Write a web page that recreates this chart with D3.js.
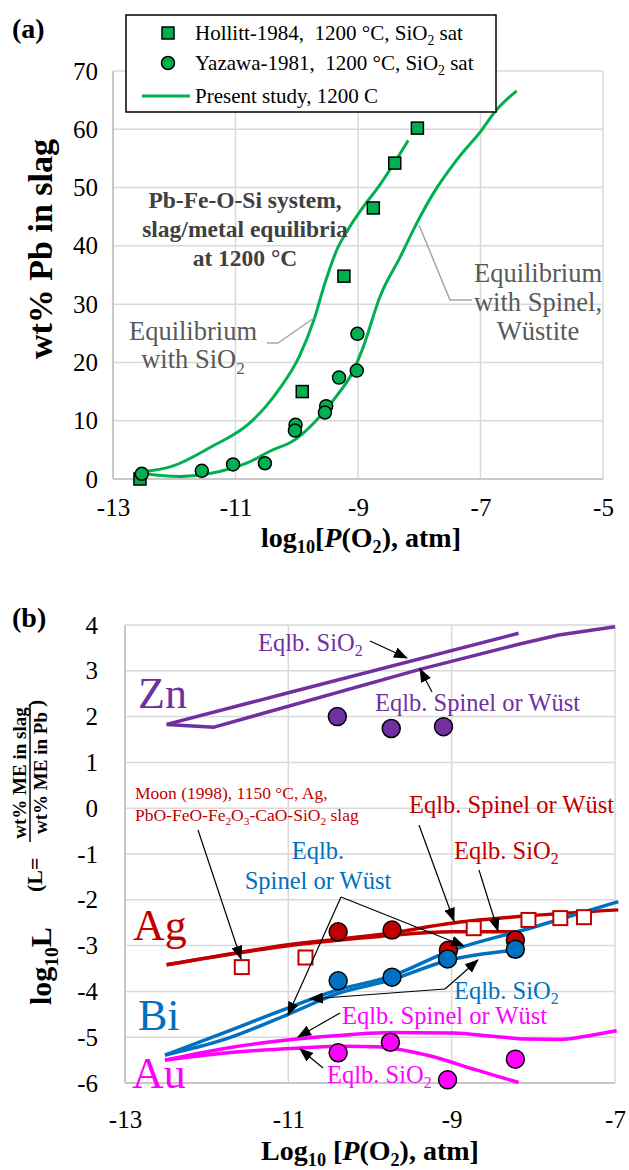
<!DOCTYPE html>
<html><head><meta charset="utf-8">
<script src="https://cdn.jsdelivr.net/npm/d3@7"></script>
<style>
body{margin:0;background:#fff}
text{font-family:"Liberation Serif","Times New Roman",serif}
</style></head><body>
<svg id="chart" width="629" height="1170"></svg>
<script>
// ---- panel (a) data: wt% Pb in slag vs log10 P(O2)
const hollitt = [[-12.56,0],[-9.91,15],[-9.23,34.8],[-8.75,46.5],[-8.4,54.2],[-8.03,60.2]];
const yazawa = [[-12.53,0.9],[-11.55,1.4],[-11.04,2.5],[-10.52,2.7],[-10.02,9.3],[-10.03,8.3],
                [-9.52,12.5],[-9.54,11.4],[-9.31,17.4],[-9.02,18.6],[-9.01,24.9]];
const pbSiO2 = [[-12.55,1.2],[-12.03,2.2],[-11.4,5.5],[-10.79,9.4],[-10.5,12.5],[-10.26,15.8],[-9.96,21],
                [-9.72,27.3],[-9.54,33.6],[-9.35,39.2],[-9.15,43.0],[-8.92,46.6],[-8.64,50.5],[-8.41,54.2],[-8.18,58.1]];
const pbSpinel = [[-12.55,1.0],[-12.2,0.6],[-11.9,0.45],[-11.6,0.7],[-11.26,1.3],[-10.8,2.8],[-10.43,4.8],
                  [-10.02,6.8],[-9.72,9.6],[-9.36,14.1],[-9.07,18.7],[-8.92,22.5],[-8.64,31.3],[-8.31,38.1],
                  [-8.04,43.9],[-7.77,49],[-7.39,54.7],[-7.0,59.6],[-6.74,63.3],[-6.41,66.6]];
const xTicksA = [-13,-11,-9,-7,-5];
const yTicksA = [0,10,20,30,40,50,60,70];

// ---- panel (b) data: log10 L vs log10 P(O2)
const znSiO2 = [[-12.49,1.83],[-11,2.52],[-8.18,3.82]];
const znSpinel = [[-12.49,1.83],[-11.91,1.77],[-9.39,3.03],[-8.18,3.58],[-7.69,3.78],[-7.0,3.96]];
const znPts = [[-10.4,2.0],[-9.74,1.74],[-9.1,1.78]];
const agSiO2 = [[-12.49,-3.42],[-10.86,-2.97],[-9.88,-2.8],[-9.0,-2.7],[-8.18,-2.7]];
const agSpinel = [[-12.49,-3.42],[-10.86,-2.95],[-9.88,-2.76],[-8.96,-2.5],[-8.06,-2.35],[-6.96,-2.22]];
const agPts = [[-10.39,-2.7],[-9.73,-2.66],[-9.04,-3.1],[-8.22,-2.88]];
const moonPts = [[-11.57,-3.47],[-10.79,-3.26],[-8.73,-2.62],[-8.06,-2.44],[-7.67,-2.4],[-7.38,-2.38]];
const biSiO2 = [[-12.51,-5.39],[-11.8,-5.06],[-11.0,-4.5],[-10.4,-4.05],[-9.76,-3.76],[-9.04,-3.32],[-8.22,-3.1]];
const biSpinel = [[-12.51,-5.39],[-11.8,-4.91],[-11.0,-4.36],[-10.4,-3.97],[-9.76,-3.68],[-9.04,-3.13],[-8.0,-2.6],[-6.96,-2.04]];
const biPts = [[-10.39,-3.77],[-9.73,-3.69],[-9.05,-3.29],[-8.22,-3.08]];
const auSiO2 = [[-12.51,-5.5],[-11.8,-5.35],[-10.9,-5.24],[-10.3,-5.2],[-9.92,-5.21],[-9.31,-5.39],[-8.69,-5.72],[-8.18,-5.99]];
const auSpinel = [[-12.51,-5.5],[-11.8,-5.25],[-10.9,-5.04],[-10.3,-4.95],[-9.71,-4.9],[-8.98,-4.91],[-8.5,-4.98],
                  [-8.08,-5.04],[-7.67,-5.05],[-7.27,-4.95],[-6.98,-4.86]];
const auPts = [[-10.39,-5.34],[-9.75,-5.11],[-9.05,-5.93],[-8.22,-5.48]];
const xTicksB = [-13,-11,-9,-7];
const yTicksB = [-6,-5,-4,-3,-2,-1,0,1,2,3,4];

const green="#00b050", purple="#7030a0", red="#c00000", blue="#0070c0", pink="#ff00ff";
const grid="#d9d9d9", serif="Liberation Serif, Times New Roman, serif";

const svg = d3.select("#chart");
svg.append("defs").append("marker").attr("id","ah")
   .attr("markerUnits","userSpaceOnUse").attr("markerWidth",14).attr("markerHeight",11)
   .attr("refX",13).attr("refY",5.5).attr("orient","auto")
   .append("path").attr("d","M0,0L14,5.5L0,11Z").attr("fill","#000");

// rich text: parts = [[str, kind]] kind: n normal, s subscript, i italic
function rich(g, x, y, parts, size, opt={}){
  const t = g.append("text").attr("x",x).attr("y",y).attr("font-size",size).attr("font-family",serif)
     .attr("fill",opt.fill||"#000").attr("text-anchor",opt.anchor||"start")
     .attr("font-weight",opt.bold?"bold":null).style("white-space","pre");
  let shifted=false;
  parts.forEach(p=>{
    const sp=t.append("tspan").text(p[0]);
    if(p[1]=="s"){ sp.attr("font-size",size*0.65).attr("dy",shifted?0:size*0.22); shifted=true; }
    else { if(shifted){ sp.attr("dy",-size*0.22); shifted=false; } }
    if(p[1]=="i") sp.attr("font-style","italic");
  });
  return t;
}
function arrow(g, pts){
  g.append("path").attr("d",d3.line()(pts)).attr("fill","none")
   .attr("stroke","#000").attr("stroke-width",1.2).attr("marker-end","url(#ah)");
}

function panelGrid(g, x, y, xt, yt){
  g.selectAll("line.v").data(xt).join("line").attr("class","v")
   .attr("x1",d=>x(d)).attr("x2",d=>x(d)).attr("y1",y.range()[0]).attr("y2",y.range()[1])
   .attr("stroke",grid).attr("stroke-width",1.5);
  g.selectAll("line.h").data(yt).join("line").attr("class","h")
   .attr("y1",d=>y(d)).attr("y2",d=>y(d)).attr("x1",x.range()[0]).attr("x2",x.range()[1])
   .attr("stroke",grid).attr("stroke-width",1.5);
  g.append("line").attr("x1",x.range()[0]).attr("x2",x.range()[0]).attr("y1",y.range()[0]).attr("y2",y.range()[1])
   .attr("stroke","#bfbfbf").attr("stroke-width",1.5);
  g.append("line").attr("x1",x.range()[0]).attr("x2",x.range()[1]).attr("y1",y.range()[0]).attr("y2",y.range()[0])
   .attr("stroke","#bfbfbf").attr("stroke-width",1.5);
}
function styleAxis(a){
  a.attr("font-family",serif).attr("font-size",null);
  a.select(".domain").remove();
  a.selectAll("text").attr("font-size",25).attr("fill","#000");
}

// ================= panel (a) =================
const xA = d3.scaleLinear().domain([-13,-5]).range([113,603]);
const yA = d3.scaleLinear().domain([0,70]).range([479,71]);
const gA = svg.append("g");
panelGrid(gA, xA, yA, xTicksA, yTicksA);
gA.append("g").attr("transform",`translate(0,${yA(0)})`)
  .call(d3.axisBottom(xA).tickValues(xTicksA).tickSize(0).tickPadding(19).tickFormat(d=>String(d)))
  .call(styleAxis);
gA.append("g").attr("transform",`translate(${xA(-13)},0)`)
  .call(d3.axisLeft(yA).tickValues(yTicksA).tickSize(0).tickPadding(15).tickFormat(d=>String(d)))
  .call(styleAxis);

const lineA = d3.line().x(d=>xA(d[0])).y(d=>yA(d[1])).curve(d3.curveMonotoneX);
[pbSiO2,pbSpinel].forEach(s=>gA.append("path").attr("d",lineA(s)).attr("fill","none")
  .attr("stroke",green).attr("stroke-width",3));
gA.selectAll("rect.h").data(hollitt).join("rect").attr("class","h")
  .attr("x",d=>xA(d[0])-6).attr("y",d=>yA(d[1])-6).attr("width",12).attr("height",12)
  .attr("fill",green).attr("stroke","#000").attr("stroke-width",1.5);
gA.selectAll("circle.y").data(yazawa).join("circle").attr("class","y")
  .attr("cx",d=>xA(d[0])).attr("cy",d=>yA(d[1])).attr("r",6.5)
  .attr("fill",green).attr("stroke","#000").attr("stroke-width",1.5);

// annotations (a)
const gray="#595959";
gA.append("path").attr("d","M314,318L278,343L267,343").attr("fill","none").attr("stroke","#a6a6a6").attr("stroke-width",1.5);
gA.append("path").attr("d","M419,225L450,300L472,300").attr("fill","none").attr("stroke","#a6a6a6").attr("stroke-width",1.5);
rich(gA,193,340,[["Equilibrium","n"]],26.5,{fill:gray,anchor:"middle"});
rich(gA,193,368,[["with SiO","n"],["2","s"]],26.5,{fill:gray,anchor:"middle"});
rich(gA,538,282,[["Equilibrium","n"]],26.5,{fill:gray,anchor:"middle"});
rich(gA,538,311,[["with Spinel,","n"]],26.5,{fill:gray,anchor:"middle"});
rich(gA,538,340,[["Wüstite","n"]],26.5,{fill:gray,anchor:"middle"});
rich(gA,245,208,[["Pb-Fe-O-Si system,","n"]],23.5,{fill:"#404040",anchor:"middle",bold:true});
rich(gA,245,237,[["slag/metal equilibria","n"]],23.5,{fill:"#404040",anchor:"middle",bold:true});
rich(gA,245,266,[["at 1200 °C","n"]],23.5,{fill:"#404040",anchor:"middle",bold:true});

// legend
const lg = gA.append("g");
lg.append("rect").attr("x",126).attr("y",15).attr("width",370).attr("height",97)
  .attr("fill","#fff").attr("stroke","#000").attr("stroke-width",1.5);
lg.append("rect").attr("x",162).attr("y",27).attr("width",12).attr("height",12)
  .attr("fill",green).attr("stroke","#000").attr("stroke-width",1.5);
lg.append("circle").attr("cx",168).attr("cy",63).attr("r",6.5)
  .attr("fill",green).attr("stroke","#000").attr("stroke-width",1.5);
lg.append("line").attr("x1",142).attr("x2",190).attr("y1",96).attr("y2",96).attr("stroke",green).attr("stroke-width",3);
rich(lg,195,40,[["Hollitt-1984,  1200 °C, SiO","n"],["2","s"],[" sat","n"]],21);
rich(lg,195,70,[["Yazawa-1981,  1200 °C, SiO","n"],["2","s"],[" sat","n"]],21);
rich(lg,195,103,[["Present study, 1200 C","n"]],21);

// titles (a)
rich(svg,12,38,[["(a)","n"]],28,{bold:true});
rich(svg,361,547,[["log","n"],["10","s"],["[","n"],["P","i"],["(O","n"],["2","s"],["), atm]","n"]],28,{bold:true,anchor:"middle"});
rich(svg.append("g").attr("transform","translate(52,249) rotate(-90)"),0,0,[["wt% Pb in slag","n"]],34,{bold:true,anchor:"middle"});

// ================= panel (b) =================
const xB = d3.scaleLinear().domain([-13,-7]).range([125,615]);
const yB = d3.scaleLinear().domain([-6,4]).range([1083,625]);
const gB = svg.append("g");
panelGrid(gB, xB, yB, xTicksB, yTicksB);
gB.append("g").attr("transform",`translate(0,${yB(-6)})`)
  .call(d3.axisBottom(xB).tickValues(xTicksB).tickSize(0).tickPadding(27).tickFormat(d=>String(d)))
  .call(styleAxis);
gB.append("g").attr("transform",`translate(${xB(-13)},0)`)
  .call(d3.axisLeft(yB).tickValues(yTicksB).tickSize(0).tickPadding(27).tickFormat(d=>String(d)))
  .call(styleAxis);

const lineB = d3.line().x(d=>xB(d[0])).y(d=>yB(d[1])).curve(d3.curveMonotoneX);
const lineBL = d3.line().x(d=>xB(d[0])).y(d=>yB(d[1]));
[[znSiO2,purple,lineBL],[znSpinel,purple,lineBL],[agSiO2,red,lineB],[agSpinel,red,lineB],[biSiO2,blue,lineB],
 [biSpinel,blue,lineB],[auSiO2,pink,lineB],[auSpinel,pink,lineB]]
  .forEach(s=>gB.append("path").attr("d",s[2](s[0])).attr("fill","none")
    .attr("stroke",s[1]).attr("stroke-width",3.5).attr("stroke-linejoin","round"));

gB.selectAll("rect.m").data(moonPts).join("rect").attr("class","m")
  .attr("x",d=>xB(d[0])-7).attr("y",d=>yB(d[1])-7).attr("width",14).attr("height",14)
  .attr("fill","#fff").attr("stroke",red).attr("stroke-width",2);
[[znPts,purple],[agPts,red],[biPts,blue],[auPts,pink]].forEach((s,i)=>
  gB.selectAll("circle.c"+i).data(s[0]).join("circle").attr("class","c"+i)
    .attr("cx",d=>xB(d[0])).attr("cy",d=>yB(d[1])).attr("r",9)
    .attr("fill",s[1]).attr("stroke","#000").attr("stroke-width",1.5));

// annotations (b)
rich(gB,138,708,[["Zn","n"]],44,{fill:purple});
rich(gB,133,940,[["Ag","n"]],44,{fill:red});
rich(gB,138,1030,[["Bi","n"]],44,{fill:blue});
rich(gB,132,1088,[["Au","n"]],44,{fill:pink});

const fq=24.5;
rich(gB,258,651,[["Eqlb. SiO","n"],["2","s"]],fq,{fill:purple});
arrow(gB,[[370,641],[407,658]]);
rich(gB,375,711,[["Eqlb. Spinel or Wüst","n"]],fq,{fill:purple});
arrow(gB,[[432,692],[420,669]]);

rich(gB,135,799,[["Moon (1998), 1150 °C, Ag,","n"]],17.5,{fill:red});
rich(gB,135,821,[["PbO-FeO-Fe","n"],["2","s"],["O","n"],["3","s"],["-CaO-SiO","n"],["2","s"],[" slag","n"]],17.5,{fill:red});
arrow(gB,[[198,830],[241,959]]);

rich(gB,409,813,[["Eqlb. Spinel or Wüst","n"]],fq,{fill:red});
arrow(gB,[[419,825],[454,921]]);
rich(gB,454,859,[["Eqlb. SiO","n"],["2","s"]],fq,{fill:red});
arrow(gB,[[479,870],[498,931]]);

rich(gB,318,859,[["Eqlb.","n"]],fq,{fill:blue,anchor:"middle"});
rich(gB,318,889,[["Spinel or Wüst","n"]],fq,{fill:blue,anchor:"middle"});
arrow(gB,[[341,897],[464,946]]);
arrow(gB,[[341,897],[288,1015]]);
rich(gB,454,999,[["Eqlb. SiO","n"],["2","s"]],fq,{fill:blue});
arrow(gB,[[445,989],[310,999]]);
arrow(gB,[[445,989],[478,960]]);

rich(gB,342,1024,[["Eqlb. Spinel or Wüst","n"]],fq,{fill:pink});
arrow(gB,[[340,1013],[298,1037]]);
rich(gB,327,1083,[["Eqlb. SiO","n"],["2","s"]],fq,{fill:pink});
arrow(gB,[[323,1068],[300,1049]]);

// titles (b)
rich(svg,12,627,[["(b)","n"]],28,{bold:true});
rich(svg,370,1160,[["Log","n"],["10","s"],[" [","n"],["P","i"],["(O","n"],["2","s"],["), atm]","n"]],28,{bold:true,anchor:"middle"});
rich(svg.append("g").attr("transform","translate(51,1005) rotate(-90)"),0,0,[["log","n"],["10","s"],["L","n"]],30,{bold:true});
rich(svg.append("g").attr("transform","translate(42,892) rotate(-90)"),0,0,[["(L=","n"]],22,{bold:true});
rich(svg.append("g").attr("transform","translate(43,707) rotate(-90)"),0,0,[[")","n"]],22,{bold:true});
const fr = svg.append("g").attr("transform","translate(30,773) rotate(-90)");
rich(fr,0,-4,[["wt% ME in slag","n"]],19,{bold:true,anchor:"middle"});
fr.append("line").attr("x1",-69).attr("x2",69).attr("y1",0).attr("y2",0).attr("stroke","#000").attr("stroke-width",1.5);
rich(fr,0,17,[["wt% ME in Pb","n"]],19,{bold:true,anchor:"middle"});
</script>
</body></html>
